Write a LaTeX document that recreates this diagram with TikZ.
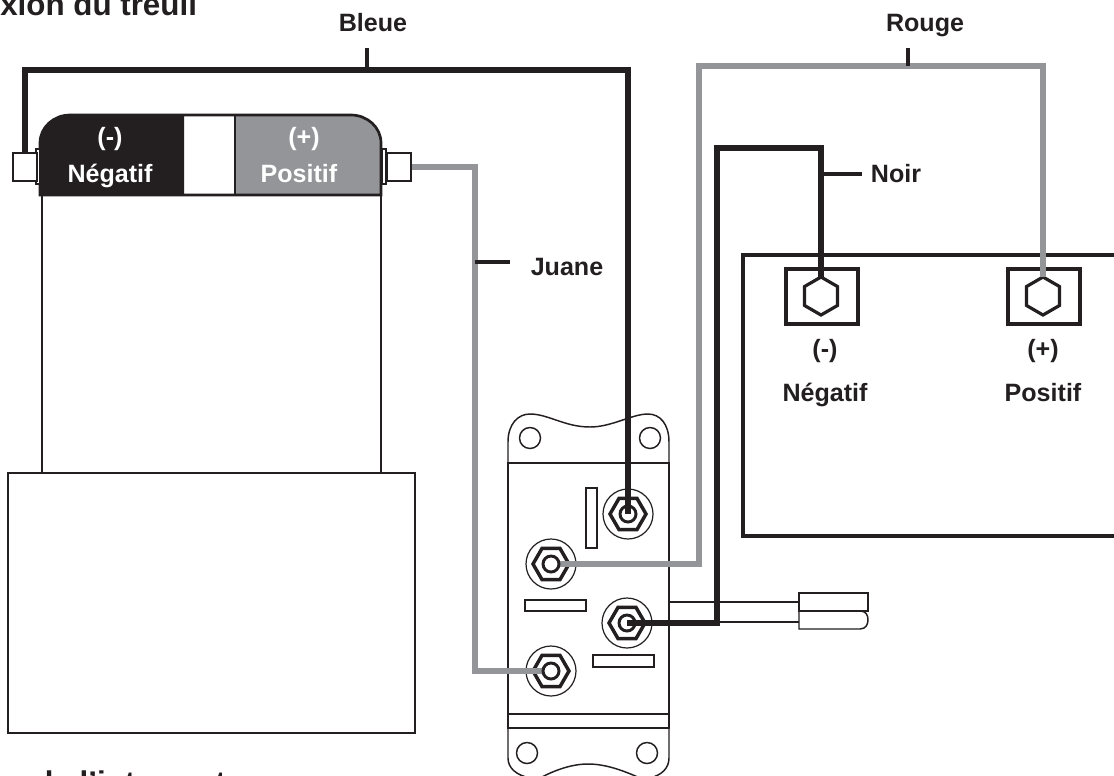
\documentclass[tikz,border=0pt]{standalone}
\usepackage{fontspec}
\setmainfont{Liberation Sans}
\usetikzlibrary{calc,shapes.geometric}
\definecolor{inkdark}{HTML}{231F20}
\definecolor{inkgrey}{HTML}{939598}
\tikzset{
  label/.style={font=\fontsize{18.8}{20}\selectfont\bfseries,text=inkdark,inner sep=0pt,anchor=base},
  headlabel/.style={label,text=white},
  title/.style={font=\fontsize{23.5}{25}\selectfont\bfseries,text=inkdark,inner sep=0pt,anchor=base west},
  blackwire/.style={draw=inkdark,line width=4pt},
  greywire/.style={draw=inkgrey,line width=4pt},
  thickbox/.style={draw=inkdark,line width=3pt},
  medbox/.style={draw=inkdark,line width=2pt},
  thinbox/.style={draw=inkdark,line width=1.1pt},
  tickline/.style={draw=inkdark,line width=2.8pt},
  hexnut/.style={regular polygon,regular polygon sides=6,draw=inkdark,line width=2.4pt,fill=white,inner sep=0pt,outer sep=0pt,minimum size=28.5pt,shape border rotate=90},
  studnut/.style={regular polygon,regular polygon sides=6,draw=inkdark,line width=2.6pt,inner sep=0pt,outer sep=0pt,minimum size=27pt},
  studring/.style={circle,draw=inkdark,line width=0.9pt,inner sep=0pt,minimum size=37.5pt},
  studeye/.style={circle,draw=inkdark,line width=2.2pt,fill=white,inner sep=0pt,minimum size=12pt},
  lug/.style={rectangle,draw=inkdark,line width=1.6pt,fill=white,inner sep=0pt,minimum width=17.5pt,minimum height=21.5pt},
}
\begin{document}
\begin{tikzpicture}[x=0.75pt,y=-0.75pt]
\useasboundingbox (0,0) rectangle (1114,775);
\fill[white] (0,0) rectangle (1114,775);
% winch
\draw[medbox] (42,195) rectangle (381,473);
\draw[medbox] (8,473) rectangle (415,733);
\fill[inkdark] (40,195) -- (40,143) .. controls (40,127) and (54,115) .. (70,115) -- (184,115) -- (184,195) -- cycle;
\fill[inkgrey] (381,195) -- (381,143) .. controls (381,127) and (367,115) .. (351,115) -- (235,115) -- (235,195) -- cycle;
\draw[medbox] (40,195) -- (40,143) .. controls (40,127) and (54,115) .. (70,115) -- (351,115) .. controls (367,115) and (381,127) .. (381,143) -- (381,195) -- cycle;
\draw[medbox] (235,115) -- (235,195);
\draw[thinbox,fill=white] (36,149) rectangle (40,184);
\draw[thinbox,fill=white] (382,149) rectangle (386,184);
\node[lug] (lugneg) at (25,167) {};
\node[lug] (lugpos) at (399,167) {};
\node[headlabel] (negsign) at (110,145) {(-)};
\node[headlabel] (negtext) at (110,182) {Négatif};
\node[headlabel] (possign) at (304,145) {(+)};
\node[headlabel] (postext) at (299,182) {Positif};
% battery
\draw[thickbox] (1116,255) -- (743,255) -- (743,536) -- (1116,536);
\draw[thickbox] (786,269) rectangle (858,324);
\draw[thickbox] (1008,269) rectangle (1080,324);
\node[label] (battnegsign) at (825,357) {(-)};
\node[label] (battnegtext) at (825,401) {Négatif};
\node[label] (battpossign) at (1043,357) {(+)};
\node[label] (battpostext) at (1043,401) {Positif};
% switch
\draw[thinbox,fill=white] (508,463) -- (508,442) .. controls (508,424) and (518,414) .. (530,414)
  .. controls (548,414) and (565,427) .. (590,427)
  .. controls (612,427) and (632,414) .. (648,414)
  .. controls (660,414) and (669,424) .. (669,442) -- (669,463) -- cycle;
\draw[thinbox] (508,463) rectangle (669,714);
\draw[thinbox] (508,714) rectangle (669,728);
\draw[thinbox,fill=white] (508,728) -- (508,758) .. controls (508,768) and (516,775) .. (530,778)
  -- (540,778) .. controls (555,770) and (572,764) .. (588,764)
  .. controls (605,764) and (622,770) .. (640,778)
  -- (650,778) .. controls (662,775) and (669,768) .. (669,758) -- (669,728) -- cycle;
\draw[medbox] (508,463) -- (669,463);
\draw[medbox] (508,728) -- (669,728);
\draw[thinbox] (530,438) circle (10.5);
\draw[thinbox] (650,438) circle (10.5);
\draw[thinbox] (527,753) circle (10.5);
\draw[thinbox] (647,753) circle (10.5);
\draw[thinbox] (586,488) rectangle (597,548);
\draw[thinbox] (525,600) rectangle (586,611);
\draw[thinbox] (593,655) rectangle (654,667);
% plug
\coordinate (plugtop) at (799,602);
\coordinate (plugbot) at (799,622);
\draw[thinbox] (669,602) -- (plugtop);
\draw[thinbox] (669,622) -- (plugbot);
\draw[thinbox] (799,593) rectangle (868,611);
\draw[thinbox] (799,611) -- (799,629) -- (860,629) .. controls (866,629) and (868,624) .. (868,620) .. controls (868,615) and (866,611) .. (860,611);
% studs
\node[studring] (ringa) at (628,514) {};
\node[studnut] (stud a) at (628,514) {};
\node[studring] (ringb) at (551,564) {};
\node[studnut] (stud b) at (551,564) {};
\node[studring] (ringc) at (627,623) {};
\node[studnut] (stud c) at (627,623) {};
\node[studring] (ringd) at (551,671) {};
\node[studnut] (stud d) at (551,671) {};
% wires
\coordinate (bleueup) at (628,70);
\coordinate (rougeup) at (699,66);
\coordinate (noirup) at (717,148);
\coordinate (juanebend) at (475,400);
\node[hexnut] (hexneg) at (821,296) {};
\node[hexnut] (hexpos) at (1043,296) {};
\draw[blackwire] (lugneg.north) |- (bleueup) -- (stud a.center);
\draw[greywire] (lugpos.east) -| (juanebend) |- (stud d.center);
\draw[greywire] (hexpos.north) |- (rougeup) |- (stud b.center);
\draw[blackwire] (hexneg.north) |- (noirup) |- (stud c.center);
\node[studeye] (eyeb) at (551,564) {};
\node[studeye] (eyed) at (551,671) {};
\node[studeye,fill=none] (eyea) at (628,514) {};
\node[studeye,fill=none] (eyec) at (627,623) {};
% labels
\node[label] (bleue) at (373,31) {Bleue};
\node[label] (rouge) at (925,31) {Rouge};
\node[label] (noir) at (896,182) {Noir};
\node[label] (juane) at (567,275) {Juane};
\coordinate (bleuetick) at (367,70);
\coordinate (bleueend) at (367,48);
\coordinate (rougetick) at (908,66);
\coordinate (rougeend) at (908,48);
\coordinate (noirtick) at (820,174);
\coordinate (noirend) at (862,174);
\coordinate (juanetick) at (475,262);
\coordinate (juaneend) at (510,262);
\draw[tickline] (bleuetick) -- (bleueend);
\draw[tickline] (rougetick) -- (rougeend);
\draw[tickline] (noirtick) -- (noirend);
\draw[tickline] (juanetick) -- (juaneend);
% cut off titles
\node[title] (wintitle) at (0,15) {xion du treuil};
\node[title] (swtitle) at (8,793) {a de l'interrupteur};
\end{tikzpicture}
\end{document}
